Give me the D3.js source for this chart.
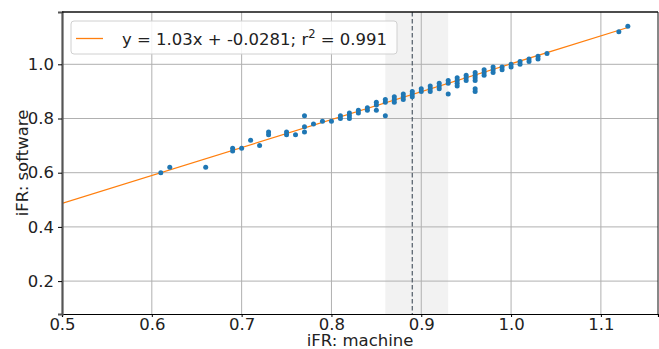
<!DOCTYPE html>
<html><head><meta charset="utf-8">
<script src="https://cdn.jsdelivr.net/npm/d3@7"></script>
<style>body{margin:0;background:#fff}svg{display:block}text{font-family:"DejaVu Sans",sans-serif}</style>
</head><body><svg id="c" width="659" height="349"></svg>
<script>
const machine = [0.61,0.62,0.66,0.69,0.69,0.70,0.71,0.72,0.73,0.73,0.75,0.75,0.76,0.77,0.77,0.77,0.78,0.79,0.80,
 0.81,0.81,0.82,0.82,0.82,0.83,0.83,0.84,0.84,0.85,0.85,0.85,0.86,0.86,0.86,0.87,0.87,0.87,0.88,0.88,0.88,
 0.89,0.89,0.89,0.90,0.90,0.91,0.91,0.91,0.92,0.92,0.92,0.93,0.93,0.93,0.94,0.94,0.94,0.94,0.95,0.95,0.95,
 0.96,0.96,0.96,0.96,0.96,0.96,0.97,0.97,0.97,0.98,0.98,0.98,0.99,0.99,1.00,1.00,1.01,1.01,1.02,1.02,1.03,1.03,1.04,1.12,1.13];
const software = [0.60,0.62,0.62,0.69,0.68,0.69,0.72,0.70,0.75,0.74,0.75,0.74,0.74,0.81,0.77,0.75,0.78,0.79,0.79,
 0.81,0.80,0.82,0.81,0.80,0.83,0.82,0.84,0.83,0.86,0.85,0.83,0.87,0.86,0.81,0.88,0.87,0.86,0.89,0.88,0.87,
 0.90,0.89,0.88,0.91,0.90,0.92,0.91,0.90,0.93,0.92,0.91,0.94,0.93,0.89,0.95,0.94,0.93,0.92,0.96,0.95,0.94,
 0.97,0.96,0.95,0.94,0.91,0.90,0.98,0.97,0.96,0.99,0.98,0.97,0.99,0.98,1.00,0.99,1.01,1.00,1.02,1.01,1.03,1.02,1.04,1.12,1.14];
const slope = 1.03, intercept = -0.0281, r2 = 0.991;
const fitRange = [0.5, 1.13];
const spanRange = [0.86, 0.93];
const dashedX = 0.89;
const xTicks = [0.5,0.6,0.7,0.8,0.9,1.0,1.1];
const yTicks = [0.2,0.4,0.6,0.8,1.0];

const L=62, R=658, T=12, B=314;
const FS = 16.5;
const svg = d3.select("#c");
const x = d3.scaleLinear().domain([0.5, 1.1636]).range([L, R]);
const y = d3.scaleLinear().domain([0.0786, 1.193]).range([B, T]);

svg.append("rect").attr("x", x(spanRange[0])).attr("y", T).attr("width", x(spanRange[1])-x(spanRange[0])).attr("height", B-T).attr("fill","#f2f2f2");

svg.append("g").selectAll("line").data(xTicks.slice(1)).join("line")
  .attr("x1", d=>x(d)).attr("x2", d=>x(d)).attr("y1", T).attr("y2", B).attr("stroke","#b0b0b0").attr("stroke-width",1);
svg.append("g").selectAll("line").data(yTicks).join("line")
  .attr("y1", d=>y(d)).attr("y2", d=>y(d)).attr("x1", L).attr("x2", R).attr("stroke","#b0b0b0").attr("stroke-width",1);

svg.append("line").attr("x1", x(dashedX)).attr("x2", x(dashedX)).attr("y1", T).attr("y2", B)
  .attr("stroke","#4f5b66").attr("stroke-width",1.2).attr("stroke-dasharray","4.5,2.5");

svg.append("clipPath").attr("id","cp").append("rect").attr("x",L).attr("y",T).attr("width",R-L).attr("height",B-T);
svg.append("line").attr("clip-path","url(#cp)")
  .attr("x1", x(fitRange[0])).attr("y1", y(slope*fitRange[0]+intercept))
  .attr("x2", x(fitRange[1])).attr("y2", y(slope*fitRange[1]+intercept))
  .attr("stroke","#ff7f0e").attr("stroke-width",1.3);

svg.append("g").selectAll("circle").data(machine.map((m,i)=>[m, software[i]])).join("circle")
  .attr("cx", d=>x(d[0])).attr("cy", d=>y(d[1])).attr("r", 2.5).attr("fill","#1f77b4");

const xa = svg.append("g").attr("transform",`translate(0,${B})`).call(d3.axisBottom(x).tickValues(xTicks).tickFormat(d3.format(".1f")).tickSize(3).tickPadding(1));
xa.select(".domain").attr("stroke","#000").attr("stroke-width",1.2);
xa.selectAll("text").attr("font-size",FS).attr("fill","#222").attr("font-family","DejaVu Sans");
const ya = svg.append("g").attr("transform",`translate(${L},0)`).call(d3.axisLeft(y).tickValues(yTicks).tickFormat(d3.format(".1f")).tickSize(4).tickPadding(4));
ya.select(".domain").attr("stroke","#555").attr("stroke-width",2.2);
ya.selectAll("text").attr("font-size",FS).attr("fill","#222").attr("font-family","DejaVu Sans");
svg.append("line").attr("x1",L).attr("x2",R).attr("y1",T).attr("y2",T).attr("stroke","#111").attr("stroke-width",1.5);
svg.append("line").attr("x1",R).attr("x2",R).attr("y1",T).attr("y2",B).attr("stroke","#111").attr("stroke-width",1);

svg.append("text").attr("x", 360).attr("y", 346).attr("text-anchor","middle").attr("font-size",FS).attr("fill","#222").text("iFR: machine");
svg.append("text").attr("transform",`translate(28,${(T+B)/2}) rotate(-90)`).attr("text-anchor","middle").attr("font-size",FS).attr("fill","#222").text("iFR: software");

const lg = svg.append("g");
lg.append("rect").attr("x",71).attr("y",21).attr("width",326).attr("height",33).attr("rx",3)
  .attr("fill","#fff").attr("fill-opacity",0.85).attr("stroke","#d0d0d0");
lg.append("line").attr("x1",76).attr("x2",103).attr("y1",38.5).attr("y2",38.5).attr("stroke","#ff7f0e").attr("stroke-width",1.3);
const t = lg.append("text").attr("x",122).attr("y",44.5).attr("font-size",FS).attr("fill","#222");
t.append("tspan").text(`y = ${slope}x + ${intercept}; r`);
t.append("tspan").attr("dy",-6.5).attr("font-size",11.5).text("2");
t.append("tspan").attr("dy",6.5).text(` = ${r2}`);
</script></body></html>
